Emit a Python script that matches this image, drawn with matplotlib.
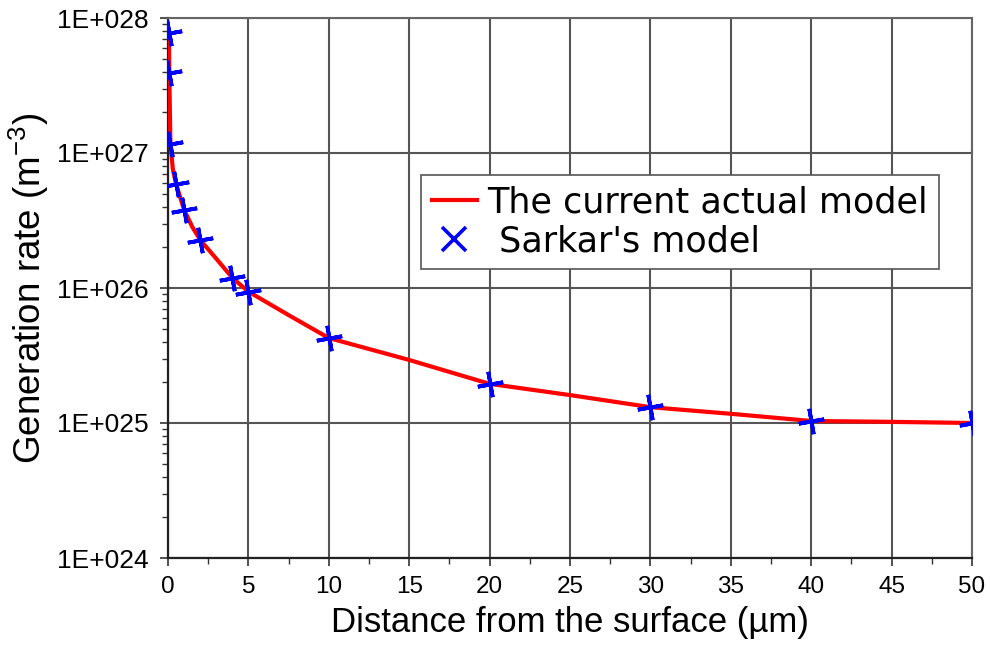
import math
import matplotlib
matplotlib.use("Agg")
import matplotlib.pyplot as plt
from matplotlib.lines import Line2D
from matplotlib.ticker import LogLocator, MultipleLocator, FuncFormatter, NullFormatter

plt.rcParams['mathtext.fontset'] = 'custom'
plt.rcParams['mathtext.rm'] = 'Liberation Sans'
plt.rcParams['mathtext.it'] = 'Liberation Sans'

# Data
curve_x = [0, 0.05, 0.08, 0.15, 0.3, 0.5, 1, 1.5, 2, 3, 4, 5, 7.5, 10, 15, 20, 25, 30, 35, 40, 45, 50]
curve_y = [8.5e27, 7.7e27, 3.9e27, 1.17e27, 7.6e26, 5.9e26, 3.8e26, 2.85e26, 2.27e26, 1.65e26, 1.19e26, 9.4e25,
           6.3e25, 4.26e25, 2.93e25, 1.95e25, 1.61e25, 1.31e25, 1.17e25, 1.035e25, 1.02e25, 1.0e25]
sarkar_x = [0.05, 0.08, 0.15, 0.5, 1, 2, 4, 5, 10, 20, 30, 40, 50]
sarkar_y = [7.7e27, 3.9e27, 1.17e27, 5.9e26, 3.8e26, 2.27e26, 1.19e26, 9.4e25, 4.26e25, 1.95e25, 1.31e25, 1.035e25, 1.0e25]
x_ticks = [0, 5, 10, 15, 20, 25, 30, 35, 40, 45, 50]
y_exps = [24, 25, 26, 27, 28]
labels = ["The current actual model", " Sarkar's model"]

fig = plt.figure(figsize=(9.9, 6.46), dpi=100)
ax = fig.add_axes([168/990, (646-558)/646, (972-168)/990, 540/646])
ax.set_yscale('log')
ax.set_xlim(0, 50)
ax.set_ylim(10.0**y_exps[0], 10.0**y_exps[-1])

ax.plot(curve_x, curve_y, color='#ff0000', lw=3.0, zorder=3)
ax.plot(sarkar_x, sarkar_y, linestyle='none', marker=(4, 2, 10), markersize=18.5,
        markeredgewidth=2.7, color='#0000ff', zorder=4)

ax.set_xticks(x_ticks)
ax.xaxis.set_minor_locator(MultipleLocator(2.5))
ax.set_yticks([10.0**e for e in y_exps])
ax.yaxis.set_major_formatter(FuncFormatter(lambda v, p: "1E+%03d" % round(math.log10(v))))
ax.yaxis.set_minor_locator(LogLocator(base=10, subs=range(2, 10)))
ax.yaxis.set_minor_formatter(NullFormatter())

ax.grid(True, which='major', color='#555555', lw=1.5)
ax.set_axisbelow(True)
for s in ['left', 'bottom']:
    ax.spines[s].set_color('#222222'); ax.spines[s].set_linewidth(1.6)
for s in ['top', 'right']:
    ax.spines[s].set_color('#666666'); ax.spines[s].set_linewidth(1.5)

ax.tick_params(which='major', direction='out', length=6, width=1.2, color='#333333')
ax.tick_params(which='minor', direction='out', length=4, width=1.0, color='#333333')
ax.tick_params(axis='x', which='major', pad=7)
ax.tick_params(axis='y', which='major', pad=8)
ax.tick_params(axis='x', which='both', top=False)
ax.tick_params(axis='y', which='both', right=False)
for lab in ax.get_xticklabels():
    lab.set_fontfamily('Liberation Sans'); lab.set_fontsize(17.5)
for lab in ax.get_yticklabels():
    lab.set_fontfamily('Liberation Sans'); lab.set_fontsize(19)

ax.set_xlabel("Distance from the surface (µm)", fontfamily='Liberation Sans', fontsize=25, labelpad=6)
ax.set_ylabel("Generation rate (m$^{-3}$)", fontfamily='Liberation Sans', fontsize=26.5, labelpad=4)

handles = [Line2D([0], [0], color='#ff0000', lw=3.0),
           Line2D([0], [0], linestyle='none', marker='x', markersize=17, markeredgewidth=2.6, color='#0000ff')]
leg = ax.legend(handles, labels,
                loc='upper left', bbox_to_anchor=((421-168)/804, (558-175)/540),
                prop={'family': 'DejaVu Sans', 'size': 25.2}, frameon=True, fancybox=False,
                edgecolor='#555555', framealpha=1, borderpad=0.3, handlelength=1.3,
                handletextpad=0.3, labelspacing=0.13, borderaxespad=0)
leg.get_frame().set_linewidth(1.2)

fig.savefig("out.png", dpi=100)
